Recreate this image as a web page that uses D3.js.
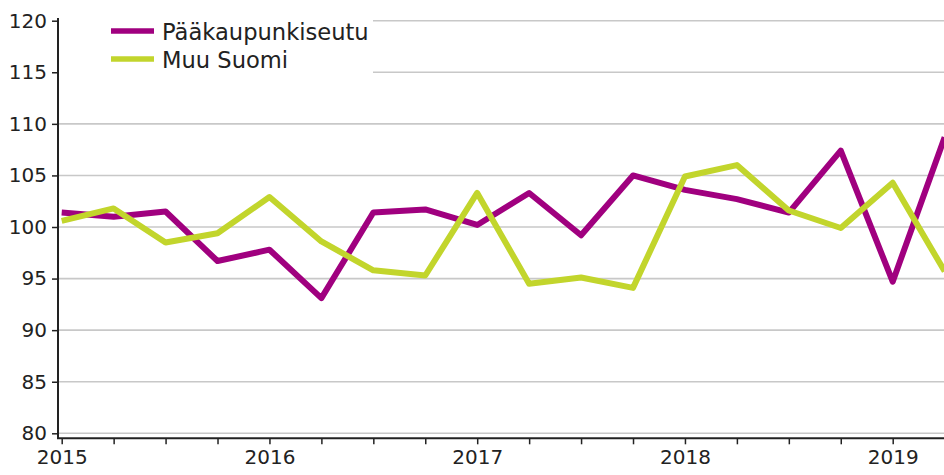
<!DOCTYPE html>
<html>
<head>
<meta charset="utf-8">
<script src="https://cdn.jsdelivr.net/npm/d3@7"></script>
<style>
  html, body { margin: 0; padding: 0; background: #fff; }
  svg { display: block; }
  text { font-family: "DejaVu Sans", Verdana, sans-serif; fill: #222; }
</style>
</head>
<body>
<svg id="chart" width="944" height="475"></svg>
<script>
const quarters = ["2015Q1","2015Q2","2015Q3","2015Q4","2016Q1","2016Q2","2016Q3","2016Q4",
                  "2017Q1","2017Q2","2017Q3","2017Q4","2018Q1","2018Q2","2018Q3","2018Q4",
                  "2019Q1","2019Q2"];
const yearLabels = ["2015","2016","2017","2018","2019"];
const yTicks = [80,85,90,95,100,105,110,115,120];
const seriesNames = ["Pääkaupunkiseutu","Muu Suomi"];
const paakaupunkiseutu = [101.4,101.0,101.5,96.7,97.8,93.1,101.4,101.7,100.2,103.3,99.2,105.0,
                          103.6,102.7,101.4,107.4,94.7,108.7];
const muuSuomi = [100.6,101.8,98.5,99.4,102.9,98.6,95.8,95.3,103.3,94.5,95.1,94.1,
                  104.9,106.0,101.6,99.9,104.3,95.7];
const colors = ["#a0007f","#c2d52c"];

const svg = d3.select("#chart");
const x0 = 61.7, yBottom = 433.3, yTop = 20.7;
const x = d3.scaleLinear().domain([0, 16]).range([x0, 892.7]);
const y = d3.scaleLinear().domain([80, 120]).range([yBottom, yTop]);

// gridlines
svg.append("g").selectAll("line").data(yTicks).join("line")
  .attr("x1", 58).attr("x2", 944)
  .attr("y1", d => y(d)).attr("y2", d => y(d))
  .attr("stroke", "#c8c8c8").attr("stroke-width", 1.6);

// legend background
svg.append("rect").attr("x", 59).attr("y", 0).attr("width", 314).attr("height", 80).attr("fill", "#fff");

// y axis
const yAxis = d3.axisLeft(y).tickValues(yTicks).tickSize(6).tickPadding(5).tickSizeOuter(0);
const gy = svg.append("g").attr("transform", "translate(58,0)").call(yAxis);
gy.select(".domain").attr("stroke", "#222").attr("stroke-width", 2).attr("d", `M0,${18}V${439}`);
gy.selectAll(".tick line").attr("stroke", "#222").attr("stroke-width", 1.5);
gy.selectAll(".tick text").style("font-size", "20px").style("font-family", "'DejaVu Sans', sans-serif").attr("fill", "#222");

// x axis
const xAxis = d3.axisBottom(x).tickValues(d3.range(quarters.length)).tickSize(6)
  .tickFormat(i => (i % 4 === 0) ? yearLabels[i / 4] : "").tickSizeOuter(0);
const gx = svg.append("g").attr("transform", "translate(0,438.3)").call(xAxis);
gx.select(".domain").attr("stroke", "#222").attr("stroke-width", 2).attr("d", `M57,0H944`);
gx.selectAll(".tick line").attr("stroke", "#222").attr("stroke-width", 1.5);
gx.selectAll(".tick text").style("font-size", "20px").style("font-family", "'DejaVu Sans', sans-serif").attr("fill", "#222").attr("dy", "0.85em");

// lines
const line = d3.line().x((d, i) => x(i)).y(d => y(d));
[paakaupunkiseutu, muuSuomi].forEach((s, k) => {
  svg.append("path").datum(s).attr("d", line)
    .attr("fill", "none").attr("stroke", colors[k]).attr("stroke-width", 6)
    .attr("stroke-linejoin", "round");
});

// legend
const leg = svg.append("g");
seriesNames.forEach((n, k) => {
  const cy = 31 + k * 28;
  leg.append("line").attr("x1", 111).attr("x2", 154).attr("y1", cy).attr("y2", cy)
    .attr("stroke", colors[k]).attr("stroke-width", 5.5);
  leg.append("text").attr("x", 162).attr("y", cy + 8.5).style("font-size", "22.6px").text(n);
});
</script>
</body>
</html>
